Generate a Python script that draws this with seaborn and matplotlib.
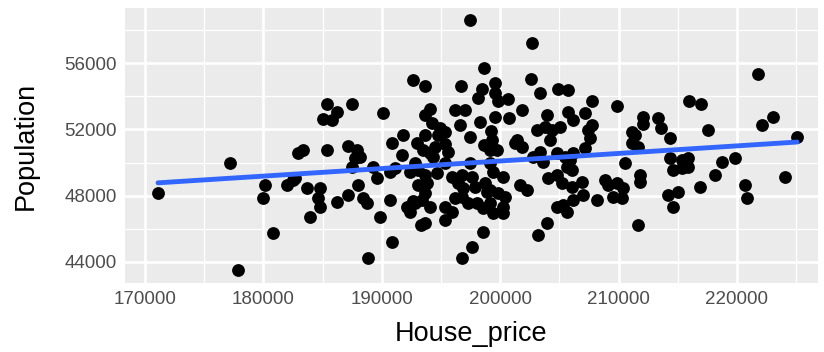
import pandas as pd
import seaborn as sns
import matplotlib.pyplot as plt
from matplotlib.ticker import MultipleLocator

# values (house price vs population)
house_price = [
    171100, 177180, 177860, 180140, 179970, 180810, 181990, 182500, 182920, 182670,
    183350, 185370, 185370, 185030, 185790, 186220, 183680, 184780, 184610, 184780,
    183940, 187480, 190100, 187150, 187910, 188160, 187740, 190860, 191790, 191710,
    187480, 189260, 189600, 190690, 191120, 192380, 187990, 187150, 186220, 188410,
    188750, 190690, 189850, 190860, 192130, 188840, 192640, 192380, 193310, 192970,
    192640, 197450, 198630, 193650, 196690, 198460, 198130, 194070, 193650, 196180,
    197030, 196610, 198290, 194240, 194920, 195340, 197450, 193650, 194750, 195340,
    194490, 193480, 195590, 194070, 194330, 198630, 199140, 199220, 199310, 193060,
    193650, 194660, 195930, 196770, 197620, 193060, 193820, 196440, 196860, 197870,
    198720, 198890, 193650, 193400, 192800, 194070, 196180, 196770, 197280, 195340,
    195930, 195340, 198040, 198550, 199140, 193650, 198550, 197620, 196770, 192800,
    195340, 197450, 199560, 199560, 199810, 200660, 202600, 202690, 201840, 199560,
    200740, 203360, 204880, 205730, 203950, 205730, 206150, 201250, 201840, 203110,
    203780, 204380, 205050, 204210, 201420, 199730, 203360, 202770, 204800, 205470,
    206150, 203620, 205640, 206060, 200240, 199140, 199390, 204040, 204800, 205220,
    201670, 202260, 199140, 199810, 200410, 200240, 199390, 200240, 206060, 206150,
    204800, 205310, 205640, 203950, 203190, 207160, 207750, 207420, 207160, 207750,
    207590, 205900, 206910, 206990, 209870, 212060, 213330, 213580, 212060, 215950,
    216960, 217550, 223040, 222110, 225070, 214340, 211130, 211390, 211130, 211640,
    221770, 210540, 211810, 211810, 208850, 209110, 209870, 210370, 209530, 210290,
    208180, 214340, 215360, 215860, 214600, 215360, 215860, 214170, 215020, 214600,
    216880, 218140, 218730, 219830, 220680, 220850, 224050, 211640,
]
population = [
    48160, 49970, 43520, 48640, 47860, 45750, 48640, 48940, 50570, 49060,
    50750, 50750, 53530, 52620, 52560, 53050, 48460, 48460, 47860, 47320,
    46710, 53530, 52990, 50990, 50750, 50330, 50270, 51180, 51660, 50450,
    49730, 49730, 49060, 49430, 49670, 49430, 48640, 48040, 47620, 47860,
    47560, 47740, 46710, 45210, 47320, 44240, 47680, 47010, 46230, 51180,
    54980, 58590, 55700, 54610, 54610, 54430, 53890, 53230, 52860, 53170,
    53170, 52260, 52440, 52380, 52080, 51840, 51540, 51660, 51660, 51120,
    50930, 50750, 50630, 50570, 50330, 51060, 50750, 51900, 51360, 49550,
    49250, 49370, 49130, 49250, 49130, 48640, 48760, 48760, 48460, 48520,
    48760, 48220, 48160, 47740, 47560, 47320, 47860, 47920, 47560, 47320,
    47010, 46530, 47560, 47260, 47560, 46350, 45810, 44900, 44240, 49970,
    49970, 49970, 54790, 54190, 53710, 53830, 55040, 57210, 53170, 52740,
    52680, 54190, 54430, 54370, 52860, 53050, 52560, 51180, 50930, 51960,
    52140, 51960, 52140, 51360, 51360, 50750, 50630, 50330, 50570, 50330,
    50570, 50030, 49730, 49550, 49130, 49970, 49430, 49060, 49250, 48760,
    48640, 48340, 48340, 48160, 47920, 47320, 46950, 46950, 48520, 47740,
    47320, 47440, 47010, 46350, 45630, 50870, 52260, 51960, 52990, 53710,
    51480, 50150, 48820, 48040, 53410, 52740, 52680, 52080, 52320, 53710,
    53530, 51960, 52740, 52260, 51540, 51480, 51840, 51660, 51180, 50930,
    55340, 49970, 49250, 48820, 48940, 48640, 48760, 48460, 47920, 47860,
    47740, 50270, 50150, 50270, 49550, 49670, 49730, 48040, 48220, 47320,
    48520, 49250, 50030, 50270, 48640, 47860, 49130, 46230,
]

df = pd.DataFrame({"House_price": house_price, "Population": population})

sns.set_style("darkgrid", {"axes.facecolor": "#EBEBEB", "grid.color": "white"})
plt.rcParams["font.family"] = ["Liberation Sans", "DejaVu Sans"]

fig = plt.figure(figsize=(8.24, 3.52), dpi=100)
ax = fig.add_axes([0.1517, 0.196, 0.841, 0.781])

sns.regplot(data=df, x="House_price", y="Population", ax=ax, ci=None,
            scatter_kws={"s": 85, "color": "black", "linewidths": 0, "alpha": 1},
            line_kws={"color": "#3366FF", "lw": 3.5})

ax.set_xlim(168311, 226841)
ax.set_ylim(42732, 59317)
ax.xaxis.set_major_locator(MultipleLocator(10000))
ax.yaxis.set_major_locator(MultipleLocator(4000))
ax.xaxis.set_minor_locator(MultipleLocator(5000))
ax.yaxis.set_minor_locator(MultipleLocator(2000))
ax.grid(which="major", color="white", lw=1.9)
ax.grid(which="minor", color="white", lw=0.9)
ax.set_axisbelow(True)
for s in ax.spines.values():
    s.set_visible(False)

ax.tick_params(which="major", length=4, width=1.2, color="#333333",
               labelsize=13.5, labelcolor="#4D4D4D", pad=2)
ax.tick_params(which="minor", length=0)
ax.set_xlabel("House_price", fontsize=19.5, color="black", labelpad=9)
ax.set_ylabel("Population", fontsize=19.5, color="black", labelpad=18)

fig.savefig("out.png", dpi=100)
